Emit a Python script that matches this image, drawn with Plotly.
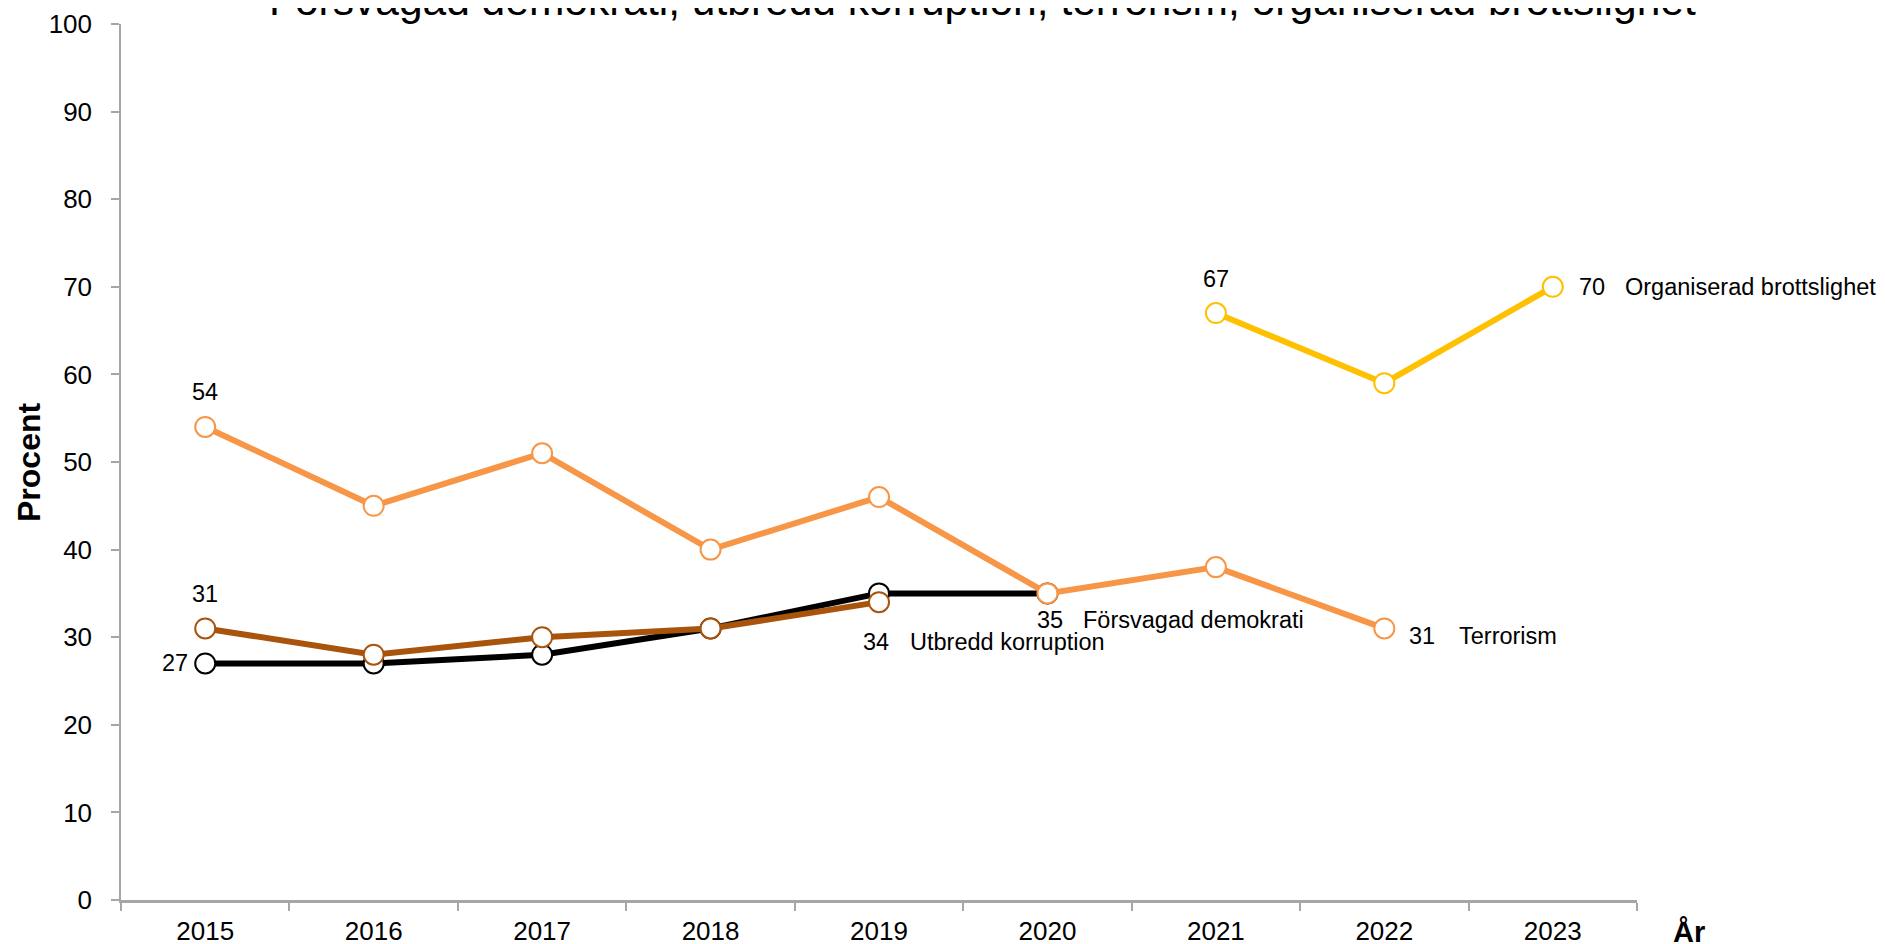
import plotly.graph_objects as go

# ---- data ----
years = ["2015", "2016", "2017", "2018", "2019", "2020", "2021", "2022", "2023"]
demokrati = [27, 27, 28, 31, 35, 35, None, None, None]
korruption = [31, 28, 30, 31, 34, None, None, None, None]
terrorism = [54, 45, 51, 40, 46, 35, 38, 31, None]
organiserad = [None, None, None, None, None, None, 67, 59, 70]
y_ticks = [0, 10, 20, 30, 40, 50, 60, 70, 80, 90, 100]

names = {
    "demokrati": "Försvagad demokrati",
    "korruption": "Utbredd korruption",
    "terrorism": "Terrorism",
    "organiserad": "Organiserad brottslighet",
}
title_text = "Försvagad demokrati, utbredd korruption, terrorism, organiserad brottslighet"

FONT = "Liberation Sans, Arial, sans-serif"
C_DEM = "#000000"
C_KOR = "#A8540D"
C_TER = "#F79646"
C_ORG = "#FFC000"

fig = go.Figure()

def add_series(vals, color, name):
    fig.add_trace(go.Scatter(
        x=years, y=vals, mode="lines+markers", name=name,
        line=dict(color=color, width=6),
        marker=dict(size=20, color="white", line=dict(color=color, width=2)),
        connectgaps=False, showlegend=False, cliponaxis=False,
    ))

add_series(demokrati, C_DEM, names["demokrati"])
add_series(korruption, C_KOR, names["korruption"])
add_series(terrorism, C_TER, names["terrorism"])
add_series(organiserad, C_ORG, names["organiserad"])

def first_idx(vals):
    return next(i for i, v in enumerate(vals) if v is not None)

def last_idx(vals):
    return max(i for i, v in enumerate(vals) if v is not None)

ann = []
LF = dict(family=FONT, size=23.5, color="black")

def lab(xi, vals, text, xanchor="center", xshift=0, yshift=0):
    # x given as category index
    ann.append(dict(x=xi, y=vals[xi], xref="x", yref="y", text=text,
                    showarrow=False, xanchor=xanchor, yanchor="middle",
                    xshift=xshift, yshift=yshift, font=LF))

# start labels
i = first_idx(terrorism); lab(i, terrorism, str(terrorism[i]), yshift=35)
i = first_idx(korruption); lab(i, korruption, str(korruption[i]), yshift=34)
i = first_idx(demokrati); lab(i, demokrati, str(demokrati[i]), xanchor="right", xshift=-15)
i = first_idx(organiserad); lab(i, organiserad, str(organiserad[i]), yshift=34)

# end labels
i = last_idx(organiserad)
lab(i, organiserad, str(organiserad[i]), xanchor="left", xshift=24)
lab(i, organiserad, names["organiserad"], xanchor="left", xshift=70)
i = last_idx(terrorism)
lab(i, terrorism, str(terrorism[i]), xanchor="left", xshift=23, yshift=-8)
lab(i, terrorism, names["terrorism"], xanchor="left", xshift=73, yshift=-8)
i = last_idx(demokrati)
lab(i, demokrati, str(demokrati[i]), xanchor="left", xshift=-12, yshift=-27)
lab(i, demokrati, names["demokrati"], xanchor="left", xshift=34, yshift=-27)
i = last_idx(korruption)
lab(i, korruption, str(korruption[i]), xanchor="left", xshift=-18, yshift=-40)
lab(i, korruption, names["korruption"], xanchor="left", xshift=29, yshift=-40)

# title (cut at top as in reference)
ann.append(dict(x=0.568, y=1, xref="paper", yref="paper", text=title_text,
                showarrow=False, xanchor="center", yanchor="middle", yshift=24,
                font=dict(family=FONT, size=42.5, color="black")))
# axis titles
ann.append(dict(x=-0.0607, y=0.5, xref="paper", yref="paper", text="<b>Procent</b>",
                showarrow=False, textangle=-90, xanchor="center", yanchor="middle",
                font=dict(family=FONT, size=32, color="black")))
ann.append(dict(x=1.0343, y=-0.0365, xref="paper", yref="paper", text="<b>År</b>",
                showarrow=False, xanchor="center", yanchor="middle",
                font=dict(family=FONT, size=29, color="black")))

# page body has an 8px margin: figure is sized/offset to compensate
fig.update_layout(
    width=1877, height=936,
    margin=dict(l=113, r=248, t=16, b=44),
    paper_bgcolor="white", plot_bgcolor="white",
    annotations=ann,
    font=dict(family=FONT, color="black"),
    xaxis=dict(
        type="category", range=[-0.5, 8.5], tickson="boundaries",
        ticks="outside", ticklen=8, tickwidth=1.5, tickcolor="#A6A6A6",
        showline=True, linecolor="#A6A6A6", linewidth=3,
        showgrid=False, zeroline=False, automargin=False,
        tickfont=dict(family=FONT, size=26, color="black"),
        ticklabelstandoff=6,
    ),
    yaxis=dict(
        range=[0, 100], tickvals=y_ticks,
        ticks="outside", ticklen=8, tickwidth=1.5, tickcolor="#A6A6A6",
        showline=True, linecolor="#A6A6A6", linewidth=1.5,
        showgrid=False, zeroline=False, automargin=False,
        tickfont=dict(family=FONT, size=26, color="black"),
        ticklabelstandoff=14,
    ),
)

fig.write_html("out.html")
